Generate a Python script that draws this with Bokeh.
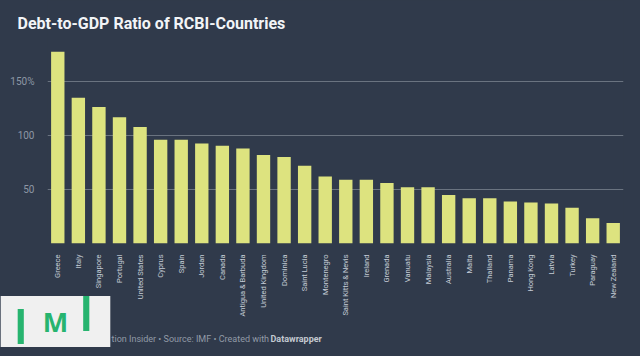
from bokeh.plotting import figure
from bokeh.layouts import column
from bokeh.models import FactorRange, Range1d, FixedTicker, Label
from bokeh.embed import file_html
from bokeh.resources import INLINE

countries = ["Greece", "Italy", "Singapore", "Portugal", "United States", "Cyprus", "Spain",
             "Jordan", "Canada", "Antigua & Barbuda", "United Kingdom", "Dominica", "Saint Lucia",
             "Montenegro", "Saint Kitts & Nevis", "Ireland", "Grenada", "Vanuatu", "Malaysia",
             "Australia", "Malta", "Thailand", "Panama", "Hong Kong", "Latvia", "Turkey",
             "Paraguay", "New Zealand"]
debt_ratio = [177.5, 135, 126.5, 117, 108, 96, 96, 92.5, 90.5, 88, 82, 80, 72,
              62, 59, 59, 56, 52, 52, 45, 42, 42, 39, 38, 37, 33, 23.5, 19]
y_ticks = [50, 100, 150]
grid_ticks = [0, 50, 100, 150]
title_text = "Debt-to-GDP Ratio of RCBI-Countries"
footer_text = "tion Insider \u2022 Source: IMF \u2022 Created with"
footer_bold = "Datawrapper"
logo_text = "M"

BG = "#303a4b"
BAR = "#dde37f"
GREEN = "#27b46f"
FONT = "Roboto"

W, H = 640, 356
L, R, T, B = 47, 17, 40, 113

# ---- bottom layer: logo ----
o = figure(width=W, height=H, x_range=Range1d(0, 1), y_range=Range1d(0, 1),
           x_axis_location=None, y_axis_location=None, output_backend="svg",
           toolbar_location=None, min_border=0, background_fill_color=BG,
           border_fill_color=None, outline_line_color=None)
o.xgrid.visible = False
o.ygrid.visible = False

nb = "\u00a0" * 5
o.add_layout(Label(x=55, y=321, x_units="canvas", y_units="canvas", text=nb + logo_text + nb,
                   text_font="Open Sans", text_font_style="bold", text_font_size="27px",
                   text_color=GREEN, text_align="center", text_baseline="middle",
                   background_fill_color="#f0f0f0", background_fill_alpha=1, padding=7), "below")
for bx, by in [(20.25, 326), (85.75, 313)]:
    o.add_layout(Label(x=bx, y=by, x_units="canvas", y_units="canvas", text="\u2009",
                       text_font=FONT, text_font_size="30px", text_color=GREEN,
                       text_align="center", text_baseline="middle",
                       background_fill_color=GREEN, background_fill_alpha=1, padding=0), "below")

# ---- chart layer (transparent, on top) ----
p = figure(width=W, height=H, x_range=FactorRange(*countries, range_padding=0),
           y_range=Range1d(0, 188), output_backend="svg", toolbar_location=None,
           min_border_left=L, min_border_right=R, min_border_top=T, min_border_bottom=B,
           background_fill_color=None, border_fill_color=None, outline_line_color=None)
p.margin = (-H, 0, 0, 0)

p.title.text = title_text
p.title.align = "left"
p.title.offset = -30
p.title.standoff = 15
p.title.text_font = FONT
p.title.text_font_style = "bold"
p.title.text_font_size = "16px"
p.title.text_color = "#f2f4f7"

p.vbar(x=countries, top=debt_ratio, width=0.65, color=BAR, line_color=None)

p.yaxis.ticker = FixedTicker(ticks=y_ticks)
p.yaxis.major_label_overrides = {150: "150%"}
p.yaxis.axis_line_color = None
p.yaxis.major_tick_line_color = None
p.yaxis.minor_tick_line_color = None
p.yaxis.major_label_text_color = "#8d97a5"
p.yaxis.major_label_text_font = FONT
p.yaxis.major_label_text_font_size = "10px"
p.yaxis.major_label_standoff = 7

p.xaxis.axis_line_color = None
p.xaxis.major_tick_line_color = None
p.xaxis.minor_tick_line_color = None
p.xaxis.major_label_orientation = 1.5708
p.xaxis.major_label_text_color = "#c5ccd6"
p.xaxis.major_label_text_font = FONT
p.xaxis.major_label_text_font_size = "7.5px"
p.xaxis.major_label_standoff = 5

p.xgrid.grid_line_color = None
p.ygrid.ticker = FixedTicker(ticks=grid_ticks)
p.ygrid.grid_line_color = "#6a7380"
p.ygrid.grid_line_width = 1

p.add_layout(Label(x=111, y=338, x_units="canvas", y_units="canvas", text=footer_text,
                   text_font=FONT, text_font_size="9px", text_color="#929ba7",
                   text_baseline="middle", text_align="left"), "below")
p.add_layout(Label(x=270, y=338, x_units="canvas", y_units="canvas", text=footer_bold,
                   text_font=FONT, text_font_style="bold", text_font_size="9px",
                   text_color="#c3c9d1", text_baseline="middle", text_align="left"), "below")

page = column(o, p, spacing=0, styles={"background-color": BG})
open("out.html", "w").write(file_html(page, INLINE))
